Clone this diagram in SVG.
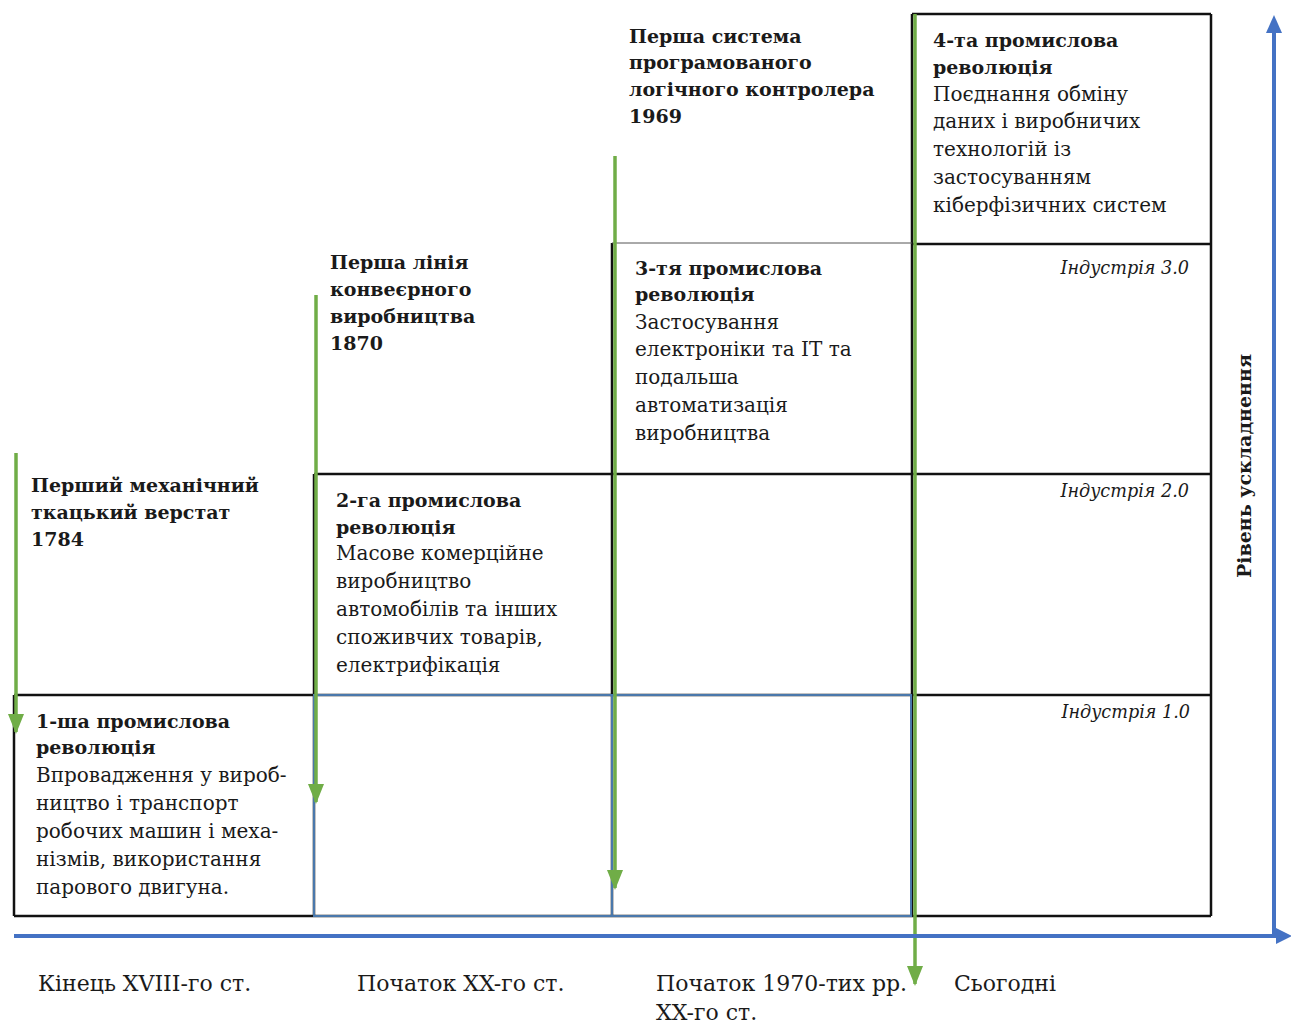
<svg xmlns="http://www.w3.org/2000/svg" width="1291" height="1023" viewBox="0 0 1291 1023">
<style>
.t{font-family:"DejaVu Serif","Liberation Serif",serif;font-size:20px;fill:#1a1a1a}
.b{font-weight:bold;font-size:19px}
.i{font-style:italic;font-size:17.6px}
.lab{font-size:22px}
.blk{stroke:#111;stroke-width:2.5;fill:none}
.thin{stroke:#555;stroke-width:1;fill:none}
.bl{stroke:#4a78ab;stroke-width:2;fill:none}
.g{stroke:#70ad47;stroke-width:3.5;fill:none}
.ax{stroke:#4472c4;stroke-width:4;fill:none}
</style>
<defs>
<marker id="ga" markerUnits="userSpaceOnUse" markerWidth="20" markerHeight="16" refX="18" refY="8" orient="auto" viewBox="0 0 20 16"><path d="M0,0 L20,8 L0,16 Z" fill="#70ad47"/></marker>
</defs>
<rect width="1291" height="1023" fill="#fff"/>
<g id="grid">
<path class="blk" d="M14,695 H1211 M314,474 H1211 M912,244 H1211 M912,14 H1211 M14,916 H1211 M14,695 V916 M314,474 V916 M612,243 V916 M912,14 V916 M1211,14 V916"/>
<path class="thin" d="M612,243 H912"/>
</g>
<g id="node-blue">
<rect class="bl" x="314" y="695" width="298" height="221"/>
<rect class="bl" x="612" y="695" width="299" height="221"/>
</g>
<g id="node1">
<text class="t b" x="36" y="728">1-ша промислова</text>
<text class="t b" x="36" y="754">революція</text>
<text class="t" x="36" y="782">Впровадження у вироб-</text>
<text class="t" x="36" y="810">ництво і транспорт</text>
<text class="t" x="36" y="838">робочих машин і меха-</text>
<text class="t" x="36" y="866">нізмів, використання</text>
<text class="t" x="36" y="894">парового двигуна.</text>
</g>
<g id="event1">
<text class="t b" x="31" y="492">Перший механічний</text>
<text class="t b" x="31" y="519">ткацький верстат</text>
<text class="t b" x="31" y="546">1784</text>
</g>
<g id="node2">
<text class="t b" x="336" y="507">2-га промислова</text>
<text class="t b" x="336" y="534">революція</text>
<text class="t" x="336" y="560">Масове комерційне</text>
<text class="t" x="336" y="588">виробництво</text>
<text class="t" x="336" y="616">автомобілів та інших</text>
<text class="t" x="336" y="644">споживчих товарів,</text>
<text class="t" x="336" y="672">електрифікація</text>
</g>
<g id="event2">
<text class="t b" x="330" y="269">Перша лінія</text>
<text class="t b" x="330" y="296">конвеєрного</text>
<text class="t b" x="330" y="323">виробництва</text>
<text class="t b" x="330" y="350">1870</text>
</g>
<g id="node3">
<text class="t b" x="635" y="275">3-тя промислова</text>
<text class="t b" x="635" y="301">революція</text>
<text class="t" x="635" y="329">Застосування</text>
<text class="t" x="635" y="356">електроніки та ІТ та</text>
<text class="t" x="635" y="384">подальша</text>
<text class="t" x="635" y="412">автоматизація</text>
<text class="t" x="635" y="440">виробництва</text>
</g>
<g id="event3">
<text class="t b" x="629" y="43">Перша система</text>
<text class="t b" x="629" y="69">програмованого</text>
<text class="t b" x="629" y="96">логічного контролера</text>
<text class="t b" x="629" y="123">1969</text>
</g>
<g id="node4">
<text class="t b" x="933" y="47">4-та промислова</text>
<text class="t b" x="933" y="74">революція</text>
<text class="t" x="933" y="101">Поєднання обміну</text>
<text class="t" x="933" y="128">даних і виробничих</text>
<text class="t" x="933" y="156">технологій із</text>
<text class="t" x="933" y="184">застосуванням</text>
<text class="t" x="933" y="212">кіберфізичних систем</text>
</g>
<g id="industry">
<text class="t i" x="1189" y="274" text-anchor="end">Індустрія 3.0</text>
<text class="t i" x="1189" y="497" text-anchor="end">Індустрія 2.0</text>
<text class="t i" x="1190" y="718" text-anchor="end">Індустрія 1.0</text>
</g>
<g id="connectors">
<line class="g" x1="16" y1="453" x2="16" y2="732" marker-end="url(#ga)"/>
<line class="g" x1="316" y1="295" x2="316" y2="802" marker-end="url(#ga)"/>
<line class="g" x1="615" y1="156" x2="615" y2="888" marker-end="url(#ga)"/>
<line class="g" x1="915" y1="14" x2="915" y2="984" marker-end="url(#ga)"/>
<line class="ax" x1="14" y1="936" x2="1276" y2="936"/>
<path d="M1276,928 L1292,936 L1276,944 Z" fill="#4472c4"/>
<line class="ax" x1="1274" y1="936" x2="1274" y2="32"/>
<path d="M1266,33 L1274,15 L1282,33 Z" fill="#4472c4"/>
</g>
<g id="axis-labels">
<text class="t b" transform="translate(1251,466) rotate(-90)" text-anchor="middle">Рівень ускладнення</text>
<text class="t lab" x="38" y="991">Кінець XVIII-го ст.</text>
<text class="t lab" x="357" y="991">Початок XX-го ст.</text>
<text class="t lab" x="656" y="991">Початок 1970-тих рр.</text>
<text class="t lab" x="656" y="1020">XX-го ст.</text>
<text class="t lab" x="954" y="991">Сьогодні</text>
</g>
</svg>
